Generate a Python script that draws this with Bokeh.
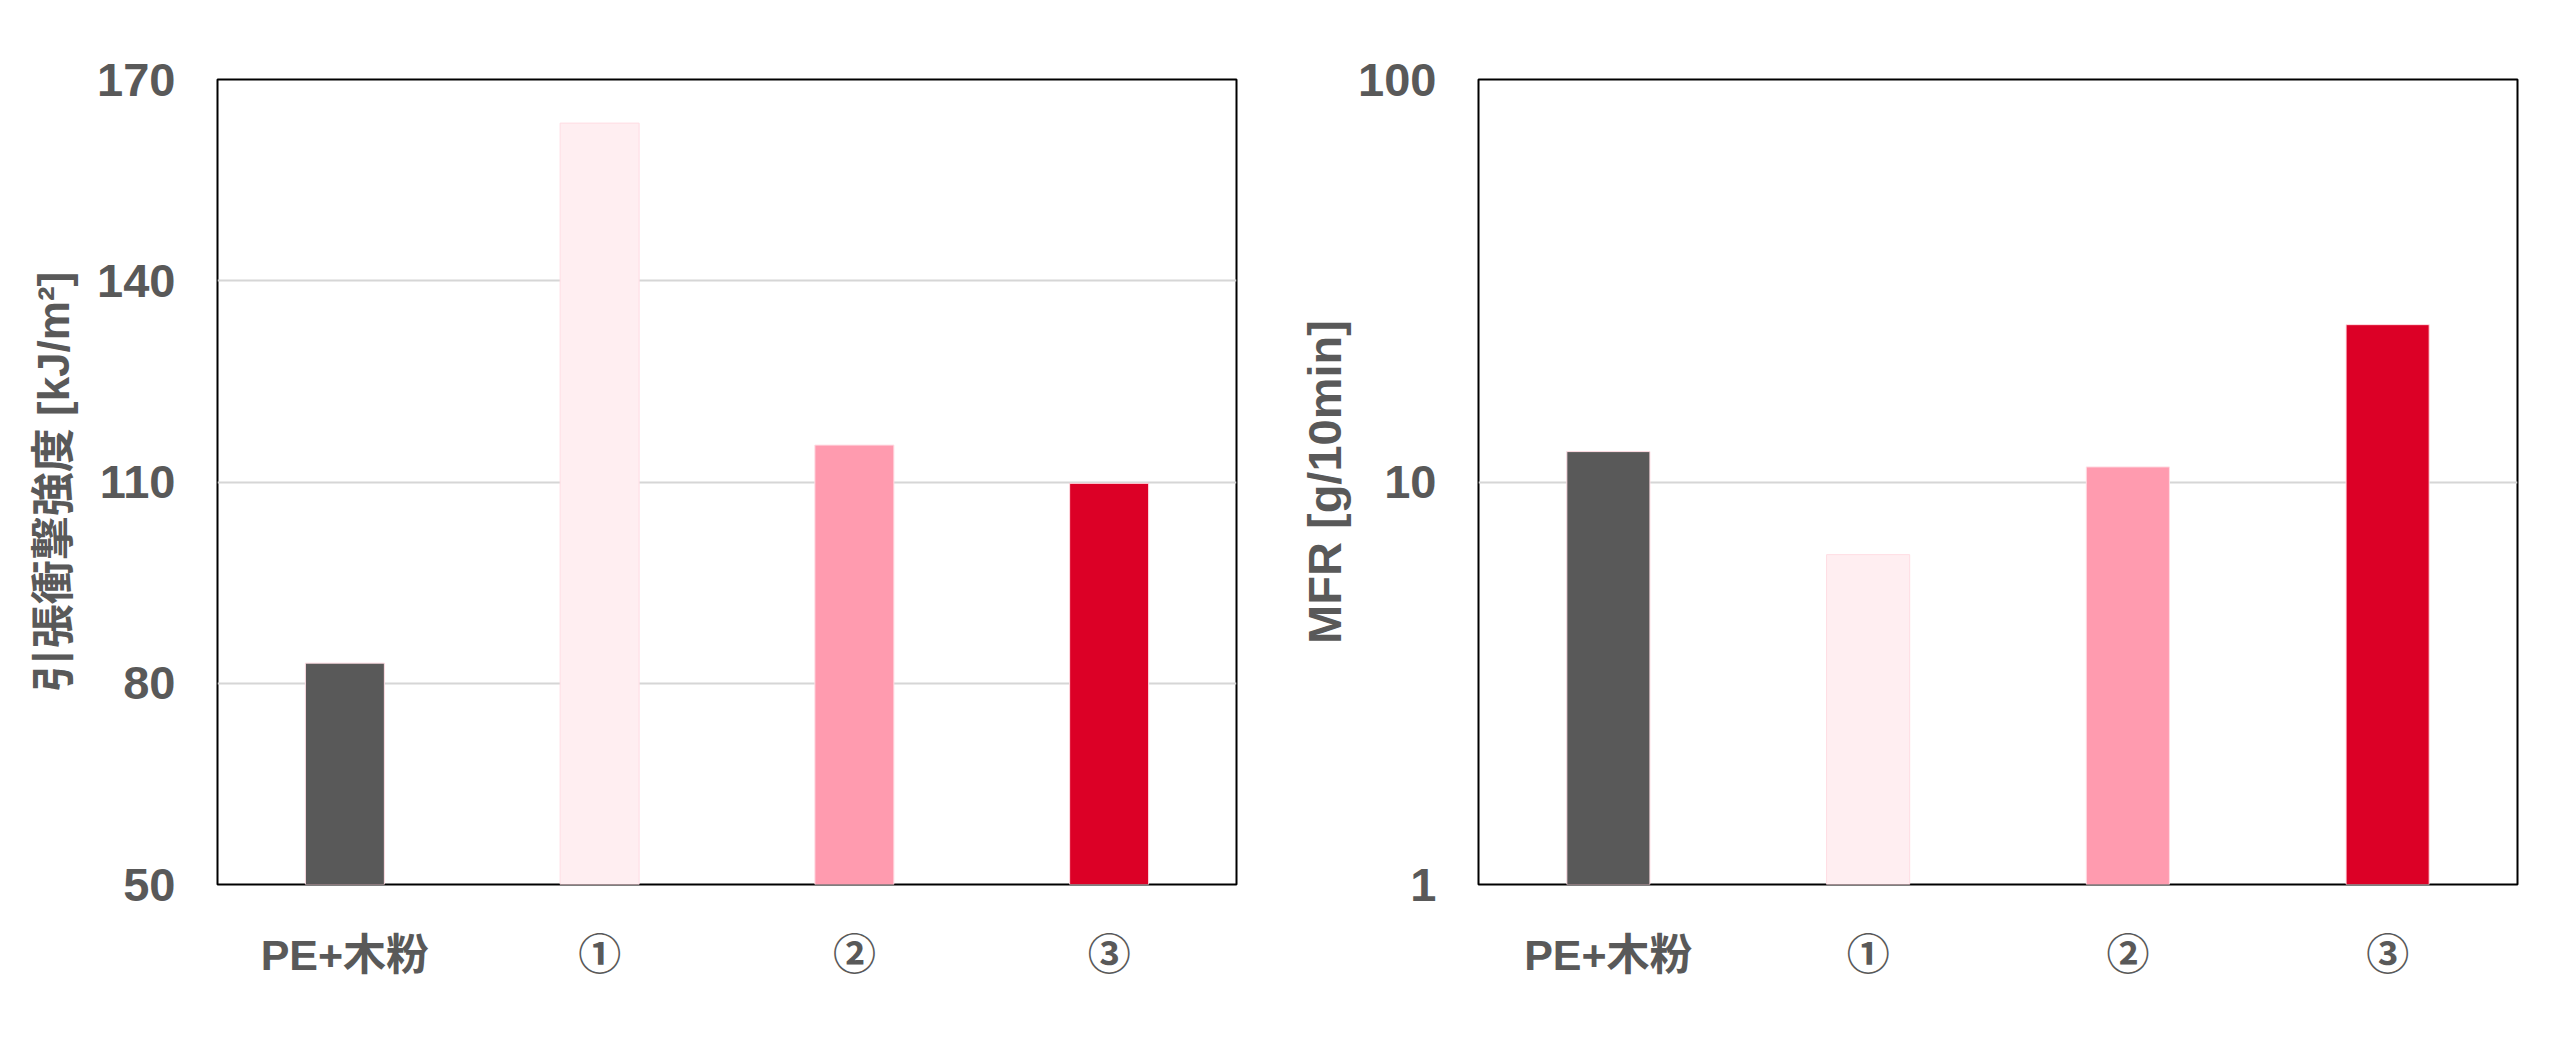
from bokeh.plotting import figure
from bokeh.models import Range1d, FactorRange, ColumnDataSource, FixedTicker, NumeralTickFormatter
from bokeh.layouts import row
from bokeh.embed import file_html
from bokeh.resources import INLINE

# ---- data ----
categories = ["PE+木粉", "①", "②", "③"]
impact_strength = [83.0, 163.5, 115.5, 109.8]   # 引張衝撃強度 [kJ/m²]
mfr = [11.9, 6.6, 10.9, 24.6]                   # MFR [g/10min]
bar_colors = ["#595959", "#FFEEF1", "#FF9BAF", "#DC0026"]
impact_ticks = [50, 80, 110, 140, 170]
mfr_ticks = [1, 10, 100]
impact_title = "引張衝撃強度 [kJ/m²]"
mfr_title = "MFR [g/10min]"

TEXT = "#595959"
LATIN_CJK = "Liberation Sans, Noto Sans CJK JP"


def style(p, ticks, title, title_size, title_standoff):
    p.yaxis.ticker = FixedTicker(ticks=ticks)
    p.ygrid.ticker = p.yaxis[0].ticker
    p.xgrid.grid_line_color = None
    p.ygrid.grid_line_color = "#D6D6D6"
    p.ygrid.grid_line_width = 2
    p.outline_line_color = "black"
    p.outline_line_width = 2
    p.outline_line_alpha = 1
    p.background_fill_color = "white"
    p.border_fill_color = "white"
    for ax in (p.xaxis[0], p.yaxis[0]):
        ax.axis_line_color = None
        ax.major_tick_line_color = None
        ax.minor_tick_line_color = None
        ax.major_label_text_color = TEXT
        ax.major_label_text_font_style = "bold"
        ax.major_label_text_font = LATIN_CJK
    p.xaxis.major_label_text_font_size = "43px"
    p.xaxis.major_label_standoff = 40
    p.yaxis.major_label_text_font_size = "47px"
    p.yaxis.major_label_standoff = 36
    p.yaxis.axis_label = title
    p.yaxis.axis_label_text_font = LATIN_CJK
    p.yaxis.axis_label_text_font_style = "bold"
    p.yaxis.axis_label_text_font_size = title_size
    p.yaxis.axis_label_text_color = TEXT
    p.yaxis.axis_label_standoff = title_standoff


# ---- left: impact strength ----
src1 = ColumnDataSource(dict(cat=categories, val=impact_strength, color=bar_colors))
p1 = figure(x_range=FactorRange(*categories), y_range=Range1d(impact_ticks[0], impact_ticks[-1]),
            width=1290, height=1054, output_backend="svg", toolbar_location=None,
            min_border_left=217, min_border_right=54, min_border_top=79, min_border_bottom=170)
p1.vbar(x="cat", top="val", bottom=impact_ticks[0], width=0.31, fill_color="color",
        line_color="#FFDCE3", line_width=1, source=src1)
style(p1, impact_ticks, impact_title, "44px", 16)

# ---- right: MFR (log) ----
src2 = ColumnDataSource(dict(cat=categories, val=mfr, color=bar_colors))
p2 = figure(x_range=FactorRange(*categories), y_range=Range1d(mfr_ticks[0], mfr_ticks[-1]),
            y_axis_type="log",
            width=1262, height=1054, output_backend="svg", toolbar_location=None,
            min_border_left=188, min_border_right=35, min_border_top=79, min_border_bottom=170)
p2.vbar(x="cat", top="val", bottom=mfr_ticks[0], width=0.32, fill_color="color",
        line_color="#FFDCE3", line_width=1, source=src2)
style(p2, mfr_ticks, mfr_title, "47px", 4)
p2.yaxis.formatter = NumeralTickFormatter(format="0")

layout = row(p1, p2)
open("out.html", "w").write(file_html(layout, INLINE))
